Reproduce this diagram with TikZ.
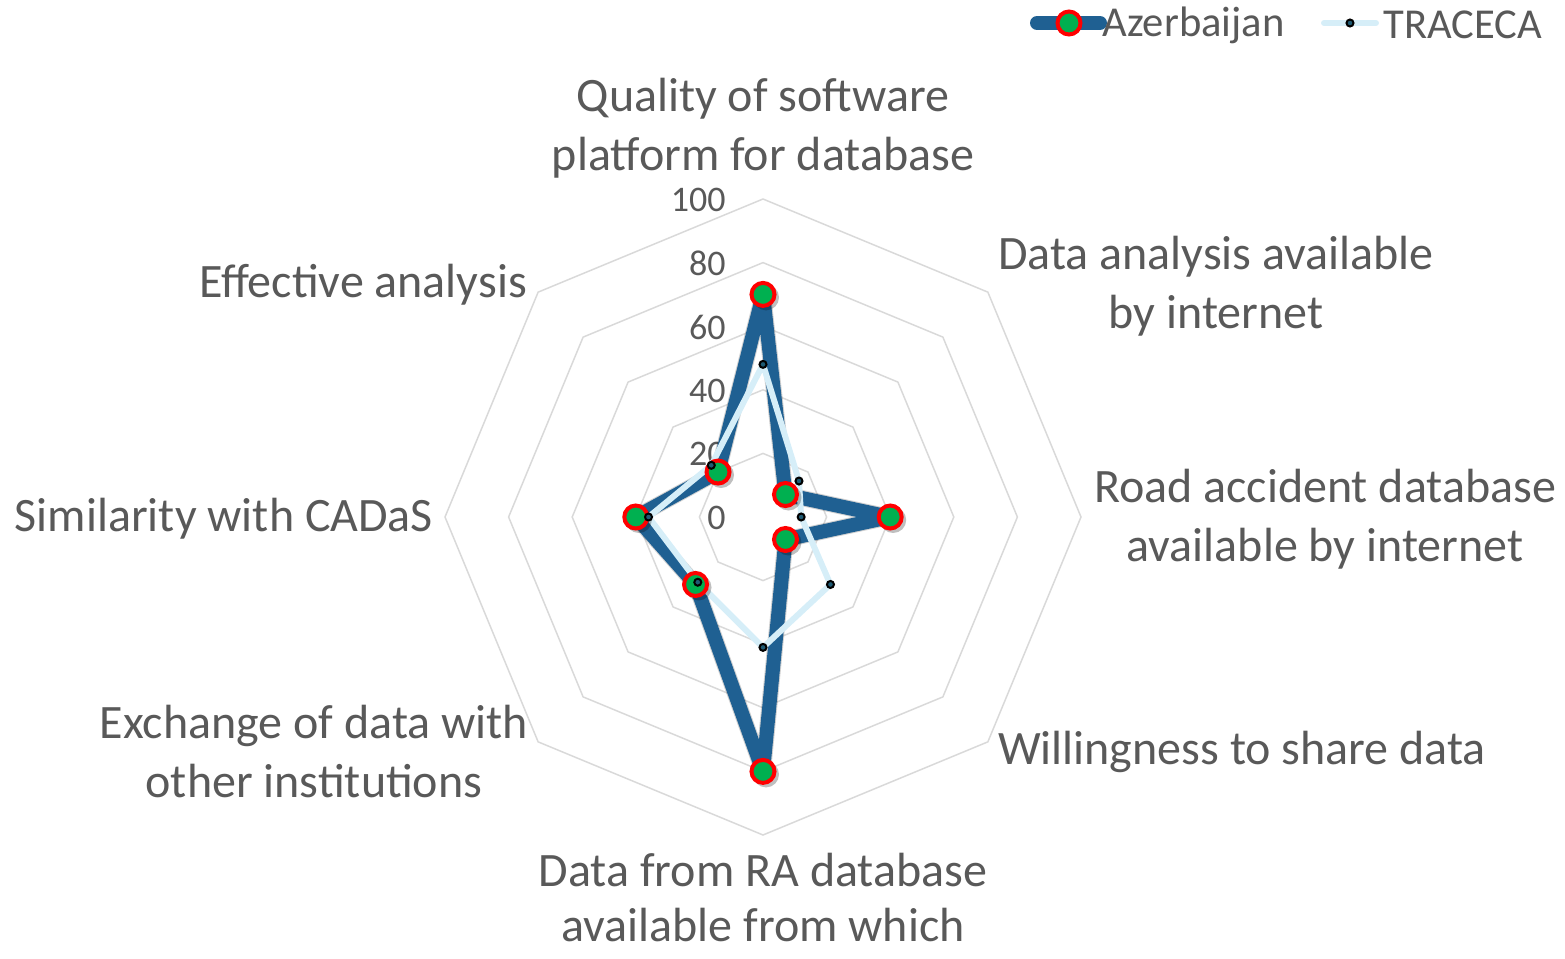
\documentclass[tikz,border=0pt]{standalone}
\usepackage{fontspec}
\setmainfont{Carlito}
\definecolor{azerblue}{RGB}{31,96,146}
\definecolor{tracelight}{RGB}{214,238,248}
\definecolor{ringgray}{RGB}{217,217,217}
\definecolor{labelgray}{RGB}{89,89,89}
\definecolor{markgreen}{RGB}{0,176,80}
\definecolor{markteal}{RGB}{30,90,115}
\tikzset{
  grid ring/.style={draw=ringgray,line width=0.75pt,line join=miter},
  azer line/.style={draw=azerblue,line width=7pt,line join=round},
  azer shadow/.style={draw=black,opacity=0.18,line width=8pt,line join=round},
  azer mark/.style={draw=red,fill=markgreen,line width=2pt},
  traceca line/.style={draw=tracelight,line width=3pt,line join=round},
  traceca mark/.style={draw=black,fill=markteal,line width=1pt},
  axis label/.style={text=labelgray,align=center,font=\fontsize{24}{29.5}\selectfont},
  tick label/.style={text=labelgray,anchor=east,inner sep=0pt,font=\fontsize{18}{20}\selectfont},
  legend label/.style={text=labelgray,anchor=west,inner sep=0pt,font=\fontsize{21.3}{24}\selectfont},
}

\begin{document}
\begin{tikzpicture}[x=0.5pt,y=-0.5pt]
\useasboundingbox (0,0) rectangle (1565,959);

% radar, centred on the 0 point
\begin{scope}[shift={(763,517)}]
\foreach \r in {20,40,...,100}
  \draw[grid ring] (-90:{3.18*\r}) \foreach \k in {1,...,7}{ -- ({45*\k-90}:{3.18*\r})} -- cycle;
\foreach \r in {0,20,...,100}
  \node[tick label] (tick-\r) at (-37,{-3.18*\r+1}) {\r};

\foreach \v [count=\k from 0] in {70,10,40,10,80,30,40,20}
  \coordinate (az-\k) at ({45*\k-90}:{3.18*\v});
\foreach \v [count=\k from 0] in {48,16,12,30,41,29,36,23}
  \coordinate (tr-\k) at ({45*\k-90}:{3.18*\v});

\draw[azer shadow,shift={(3,3)}] (az-0) \foreach \k in {1,...,7}{ -- (az-\k)} -- cycle;
\draw[azer line] (az-0) \foreach \k in {1,...,7}{ -- (az-\k)} -- cycle;
\draw[traceca line] (tr-0) \foreach \k in {1,...,7}{ -- (tr-\k)} -- cycle;
\foreach \k in {0,...,7}{
  \fill[black,opacity=0.25] ([shift={(3,3)}]az-\k) circle[radius=13];
  \draw[azer mark] (az-\k) circle[radius=11.5];
}
\foreach \k in {0,...,7}
  \draw[traceca mark] (tr-\k) circle[radius=3.5];
\end{scope}

% axis names
\node[axis label] (quality) at (763,128) {Quality of software\\platform for database};
\node[axis label] (analysis) at (1216,286) {Data analysis available\\by internet};
\node[axis label] (road) at (1325,519) {Road accident database\\available by internet};
\node[axis label] (willing) at (1242,752) {Willingness to share data};
\node[axis label,font=\fontsize{24}{27.5}\selectfont] (radata) at (763,898) {Data from RA database\\available from which};
\node[axis label] (exchange) at (314,752) {Exchange of data with\\other institutions};
\node[axis label] (cadas) at (224,519) {Similarity with CADaS};
\node[axis label] (effective) at (363,285) {Effective analysis};

% legend
\coordinate (azer-a) at (1037,23);
\coordinate (azer-b) at (1100,23);
\draw[azer line,line cap=round] (azer-a) -- (azer-b);
\draw[azer mark] (1069,23) circle[radius=11.5];
\node[legend label] (azer-key) at (1102,25) {Azerbaijan};
\coordinate (trace-a) at (1324,23);
\coordinate (trace-b) at (1376,23);
\draw[traceca line,line cap=round] (trace-a) -- (trace-b);
\draw[traceca mark] (1350,23) circle[radius=3.5];
\node[legend label] (trace-key) at (1383,25) {TRACECA};
\end{tikzpicture}
\end{document}
